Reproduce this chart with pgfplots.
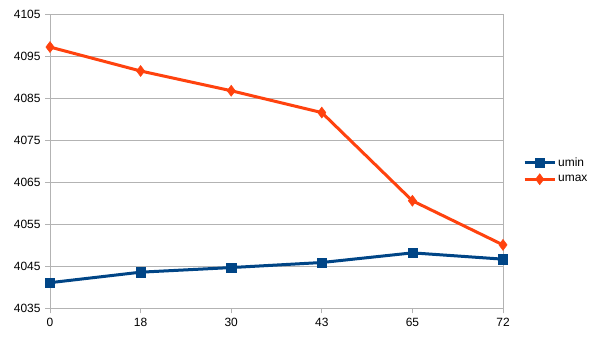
\documentclass[border=0pt]{standalone}
\usepackage{fontspec}
\setmainfont{Liberation Sans}
\usepackage{pgfplots}
\pgfplotsset{compat=1.18}
\definecolor{cmin}{HTML}{004586}
\definecolor{cmax}{HTML}{FF420E}
\definecolor{gridc}{HTML}{B3B3B3}
\begin{document}
\begin{tikzpicture}
\useasboundingbox[fill=white] (0,0) rectangle (606bp,341bp);
\begin{axis}[
  at={(50bp,32.7bp)}, anchor=south west,
  scale only axis,
  width=453bp, height=294bp,
  xmin=0, xmax=5, ymin=4035, ymax=4105,
  xtick={0,1,2,3,4,5},
  xticklabels={0,18,30,43,65,72},
  ytick={4035,4045,4055,4065,4075,4085,4095,4105},
  /pgf/number format/fixed,
  /pgf/number format/1000 sep={},
  /pgf/number format/assume math mode=true,
  ymajorgrids, grid style={gridc, line width=0.8bp},
  axis line style={gridc, line width=0.8bp},
  tick style={gridc, line width=0.8bp},
  tick align=outside, major tick length=5bp,
  xtick pos=bottom, ytick pos=left,
  ticklabel style={font=\fontsize{12}{14}\selectfont, text=black},
  xticklabel style={yshift=-1bp},
  yticklabel style={xshift=-1bp},
  clip=false,
  legend style={at={(axis description cs:1,0.469)}, anchor=west, xshift=20bp,
    draw=none, fill=none, font=\fontsize{12}{14}\selectfont,
    row sep=3.5bp, inner sep=0pt},
  legend cell align=left,
  legend image code/.code={\draw[#1, mark repeat=2, mark phase=2] plot coordinates {(0bp,0bp) (15bp,0bp) (30bp,0bp)};},
]
\addplot[cmin, line width=3bp, mark=square*, mark size=4.6bp, mark options={solid, line width=0.5bp}] coordinates {
(0,4041.1) (1,4043.6) (2,4044.7) (3,4045.9) (4,4048.2) (5,4046.7)};
\addlegendentry{umin}
\addplot[cmax, line width=3bp, mark=diamond*, mark size=5.5bp, mark options={solid, line width=0.5bp}] coordinates {
(0,4097.2) (1,4091.5) (2,4086.8) (3,4081.6) (4,4060.6) (5,4050.1)};
\addlegendentry{umax}
\end{axis}
\end{tikzpicture}
\end{document}
